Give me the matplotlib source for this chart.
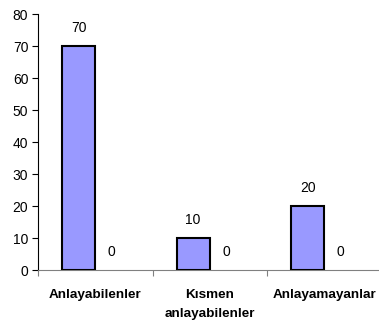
import matplotlib
matplotlib.use("Agg")
import matplotlib.pyplot as plt
import numpy as np

categories = ["Anlayabilenler", "Kısmen\nanlayabilenler", "Anlayamayanlar"]
series_a = [70, 10, 20]
series_b = [0, 0, 0]
yticks = [0, 10, 20, 30, 40, 50, 60, 70, 80]

plt.rcParams["font.family"] = ["Liberation Sans", "DejaVu Sans"]

fig = plt.figure(figsize=(3.79, 3.24), dpi=100)
ax = fig.add_axes([38 / 379, 54 / 324, 343.5 / 379, 256 / 324])

x = np.arange(len(categories))
w = 0.29
bars_a = ax.bar(x - w / 2, series_a, w, color="#9999FF", edgecolor="black",
                linewidth=1.5, zorder=3)
bars_b = ax.bar(x + w / 2, series_b, w, color="#993366", linewidth=0, zorder=3)

for bars, vals in ((bars_a, series_a), (bars_b, series_b)):
    for b, v in zip(bars, vals):
        ax.annotate(str(v), (b.get_x() + b.get_width() / 2, v),
                    xytext=(0, 13), textcoords="offset points",
                    ha="center", va="center", fontsize=10)

ax.set_xlim(-0.5, 2.5)
ax.set_ylim(0, 80)
ax.set_yticks(yticks)
ax.tick_params(axis="y", length=4, width=0.8, pad=3, labelsize=10)

# category labels sit between the boundary ticks
ax.set_xticks([-0.5, 0.5, 1.5, 2.5])
ax.set_xticklabels([])
ax.set_xticks(x, minor=True)
ax.set_xticklabels(categories, minor=True, fontsize=9.7, fontweight="bold",
                   linespacing=1.75)
ax.tick_params(axis="x", which="major", length=4, width=0.8, color="#808080")
ax.tick_params(axis="x", which="minor", length=0, pad=14)

for s in ("top", "right"):
    ax.spines[s].set_visible(False)
ax.spines["left"].set_linewidth(0.8)
ax.spines["bottom"].set_color("#808080")
ax.spines["bottom"].set_linewidth(0.8)

fig.savefig("out.png", dpi=100)
